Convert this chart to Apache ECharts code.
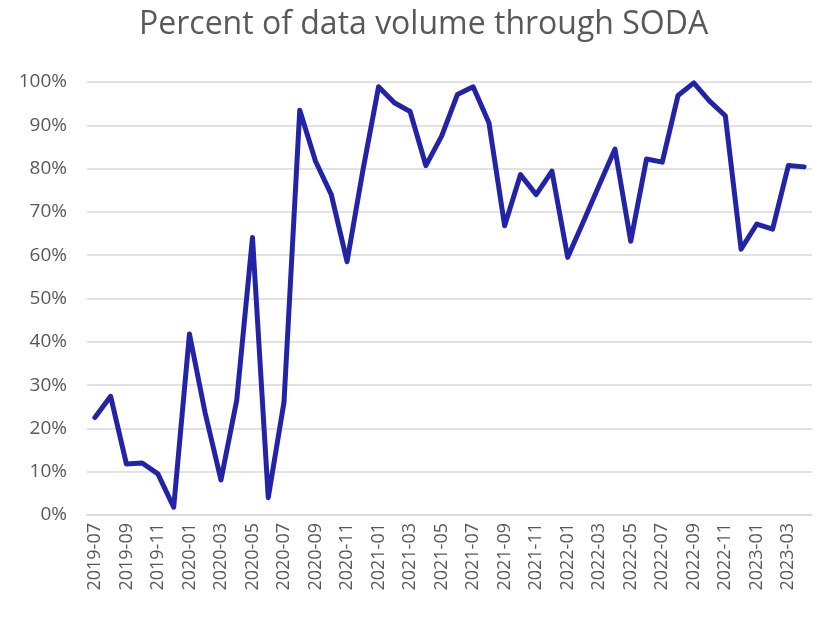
<!DOCTYPE html>
<html>
<head>
<meta charset="utf-8">
<script src="https://cdn.jsdelivr.net/npm/echarts@6/dist/echarts.min.js"></script>
<style>
  html, body { margin: 0; padding: 0; background: #fff; }
  #main { width: 818px; height: 617px; }
</style>
</head>
<body>
<div id="main"></div>
<script>
  // months, 2019-07 .. 2023-04
  var months = [
    '2019-07', '2019-08', '2019-09', '2019-10', '2019-11', '2019-12',
    '2020-01', '2020-02', '2020-03', '2020-04', '2020-05', '2020-06',
    '2020-07', '2020-08', '2020-09', '2020-10', '2020-11', '2020-12',
    '2021-01', '2021-02', '2021-03', '2021-04', '2021-05', '2021-06',
    '2021-07', '2021-08', '2021-09', '2021-10', '2021-11', '2021-12',
    '2022-01', '2022-02', '2022-03', '2022-04', '2022-05', '2022-06',
    '2022-07', '2022-08', '2022-09', '2022-10', '2022-11', '2022-12',
    '2023-01', '2023-02', '2023-03', '2023-04'
  ];

  // percent through SODA
  var sodaPct = [
    22.5, 27.4, 11.8, 12.0, 9.5, 1.8,
    41.8, 23.5, 8.1, 26.5, 64.1, 4.0,
    26.1, 93.5, 81.7, 74.0, 58.5, 79.5,
    98.9, 95.2, 93.2, 80.7, 87.5, 97.1,
    98.9, 90.6, 66.8, 78.6, 74.0, 79.4,
    59.5, 67.8, 76.2, 84.5, 63.2, 82.2,
    81.5, 96.9, 99.8, 95.6, 92.2, 61.4,
    67.2, 66.0, 80.7, 80.4
  ];

  var titleText = 'Percent of data volume through SODA';
  var txt = '#595959';

  var chart = echarts.init(document.getElementById('main'));
  chart.setOption({
    animation: false,
    title: {
      text: titleText,
      left: 134,
      top: 4,
      textStyle: {
        fontFamily: 'Open Sans',
        fontSize: 32,
        fontWeight: 'normal',
        color: txt
      }
    },
    grid: {
      left: 87,
      right: 6,
      top: 82,
      bottom: 102
    },
    xAxis: {
      type: 'category',
      data: months,
      boundaryGap: true,
      axisLine: { lineStyle: { color: '#d9d9d9', width: 1.5 } },
      axisTick: { show: false },
      axisLabel: {
        interval: 1,
        rotate: 90,
        margin: 8,
        color: txt,
        fontFamily: 'Open Sans',
        fontSize: 18
      }
    },
    yAxis: {
      type: 'value',
      min: 0,
      max: 100,
      interval: 10,
      axisLine: { show: false },
      axisTick: { show: false },
      splitLine: { lineStyle: { color: '#d9d9d9', width: 1.5 } },
      axisLabel: {
        formatter: '{value}%',
        margin: 20,
        color: txt,
        fontFamily: 'Open Sans',
        fontSize: 19
      }
    },
    series: [{
      type: 'line',
      data: sodaPct,
      symbol: 'none',
      lineStyle: { color: '#2323a8', width: 5, cap: 'round', join: 'round' }
    }]
  });
</script>
</body>
</html>
